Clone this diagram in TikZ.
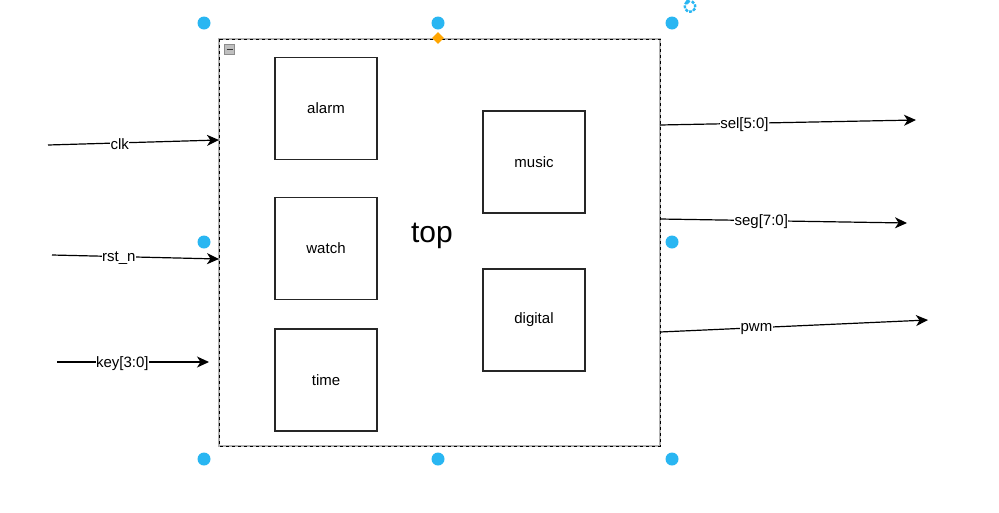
\documentclass[tikz,border=0pt]{standalone}
\usepackage{fontspec}
\setmainfont{Liberation Sans}
\usetikzlibrary{arrows.meta,shapes.geometric}
\definecolor{handle}{HTML}{29B6F2}
\definecolor{orng}{HTML}{FFA500}
\tikzset{
  block/.style={draw=black!85, line width=1.3pt, minimum width=102pt, minimum height=102pt, inner sep=0pt, font=\fontsize{15pt}{18pt}\selectfont},
  sig/.style={draw=black, line width=1.2pt, -{Stealth[length=12pt,width=11pt,inset=3.5pt]}},
  lbl/.style={fill=white, inner sep=0.5pt, yshift=-1.2pt, font=\fontsize{15pt}{18pt}\selectfont},
  dot/.style={circle, fill=handle, minimum size=13pt, inner sep=0pt},
}
\begin{document}
\begin{tikzpicture}[x=1pt,y=-1pt]
\useasboundingbox (0,0) rectangle (999,512);
% top container
\node[draw=black!30, line width=2pt, outer sep=0pt, minimum width=441pt, minimum height=407pt, inner sep=0pt, anchor=north west] (top) at (219,39) {};
\draw[black, line width=1pt, dash pattern=on 3pt off 3pt] (top.north west) rectangle (top.south east);
\node[font=\fontsize{30pt}{34pt}\selectfont] (toplbl) at (432,236) {top};
% collapse icon
\node[draw=black!45, fill=black!25, minimum size=10pt, inner sep=0pt] (coll) at (229.5,49.5) {};
\draw[black!80, line width=1.6pt] ([xshift=-3pt]coll.center) -- ([xshift=3pt]coll.center);
% inner blocks
\node[block] (alarm) at (326,108.5) {alarm};
\node[block] (watch) at (326,248.5) {watch};
\node[block] (time) at (326,380) {time};
\node[block] (music) at (534,162) {music};
\node[block] (digital) at (534,320) {digital};
% signal coordinates
\coordinate (clkA) at (48,145);  \coordinate (clkB) at (219,140);
\coordinate (rstA) at (52,255);  \coordinate (rstB) at (219,259);
\coordinate (keyA) at (57,362);  \coordinate (keyB) at (209,362);
\coordinate (selA) at (660,125); \coordinate (selB) at (916,120);
\coordinate (segA) at (660,219); \coordinate (segB) at (907,223);
\coordinate (pwmA) at (660,332); \coordinate (pwmB) at (928,320);
\draw[sig] (clkA) -- node[lbl, pos=0.42] (clkL) {clk} (clkB);
\draw[sig] (rstA) -- node[lbl, pos=0.4] (rstL) {rst\_n} (rstB);
\draw[sig] (keyA) -- node[lbl, pos=0.43] (keyL) {key[3:0]} (keyB);
\draw[sig] (selA) -- node[lbl, pos=0.33] (selL) {sel[5:0]} (selB);
\draw[sig] (segA) -- node[lbl, pos=0.41] (segL) {seg[7:0]} (segB);
\draw[sig] (pwmA) -- node[lbl, pos=0.36] (pwmL) {pwm} (pwmB);
% selection handles
\node[dot] (h1) at (204,23) {};
\node[dot] (h2) at (438,23) {};
\node[dot] (h3) at (672,23) {};
\node[dot] (h4) at (204,242) {};
\node[dot] (h5) at (672,242) {};
\node[dot] (h6) at (204,459) {};
\node[dot] (h7) at (438,459) {};
\node[dot] (h8) at (672,459) {};
\node[diamond, fill=orng, minimum size=12pt, inner sep=0pt] (dia) at (438,38) {};
% rotate icon
\coordinate (rot) at (690,6.5);
\draw[handle, line width=2.4pt, dash pattern=on 3pt off 1.3pt] (rot) ++(70:5.5pt) arc[start angle=70, end angle=-260, radius=5.5pt];
\fill[handle] (rot) ++(100:5.5pt) ++(-3.5,-3) -- ++(5,3) -- ++(-3,3.5) -- cycle;
\end{tikzpicture}
\end{document}
